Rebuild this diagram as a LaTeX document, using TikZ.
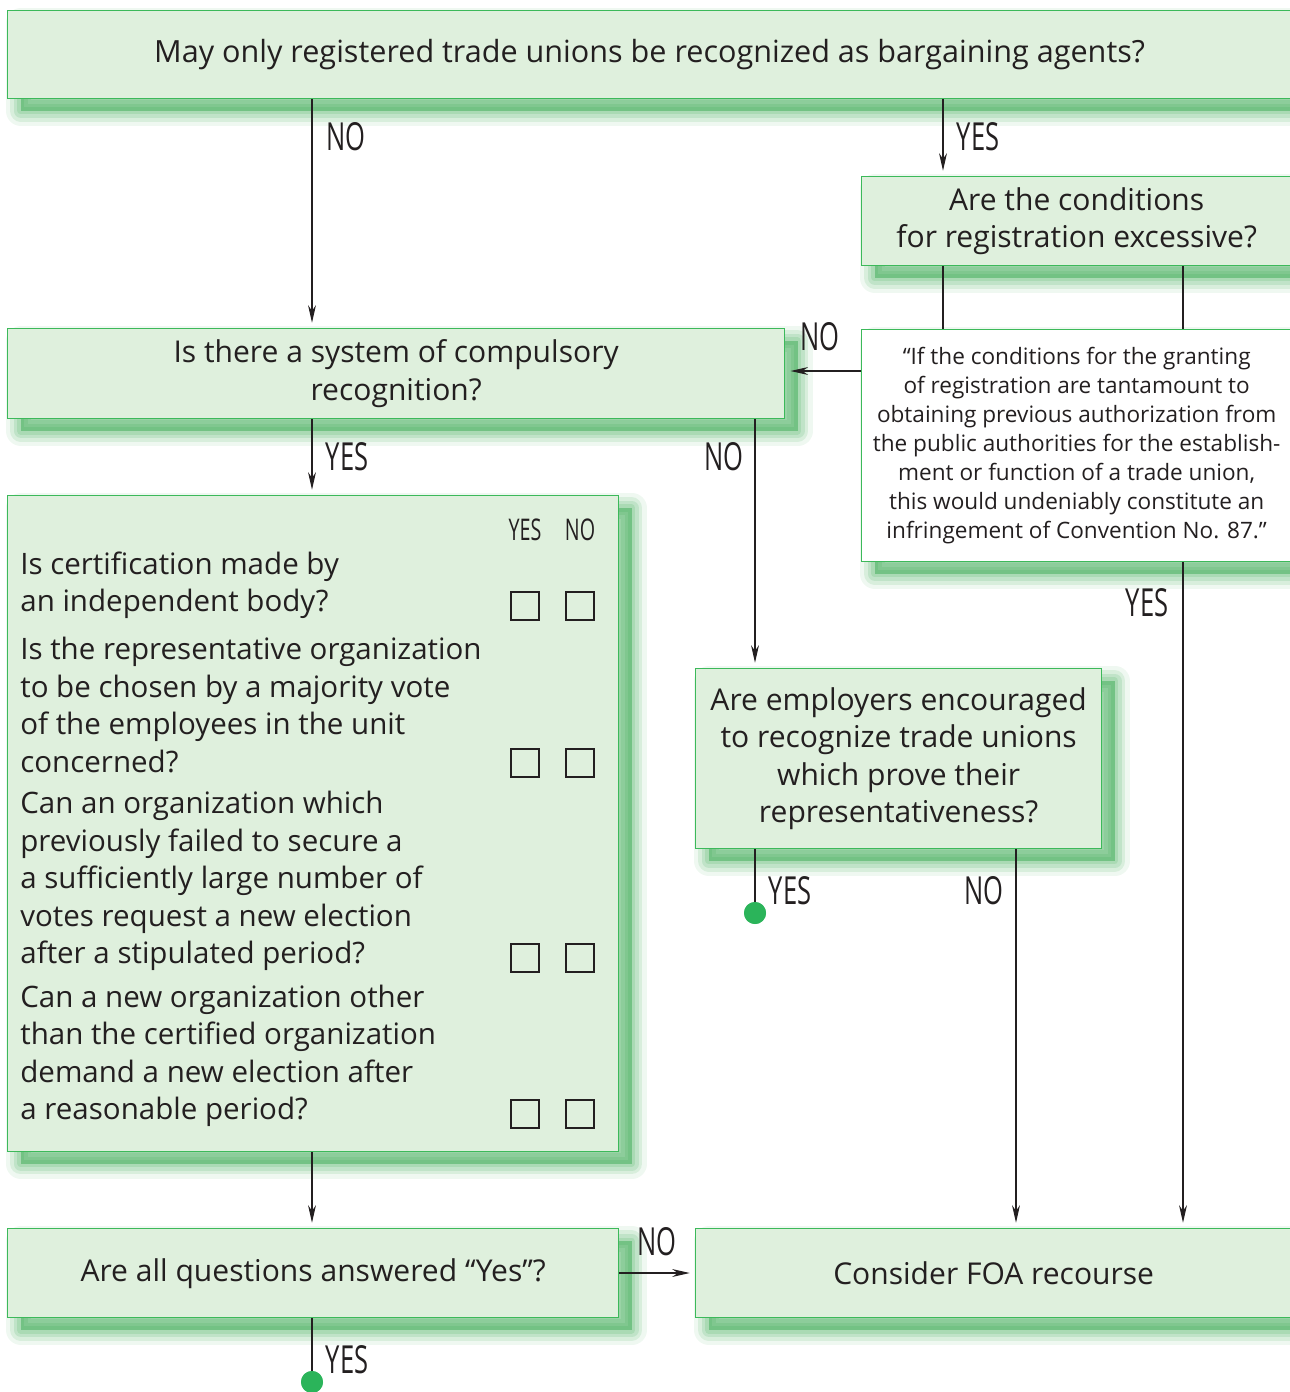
\documentclass[tikz,border=0pt]{standalone}
\usepackage{fontspec}
\setmainfont{Open Sans}
\newfontfamily\condfont[FakeStretch=0.66]{Open Sans}
\usetikzlibrary{arrows.meta}
\definecolor{boxfill}{RGB}{223,240,221}
\definecolor{boxline}{RGB}{60,185,90}
\definecolor{shadegreen}{RGB}{50,165,75}
\definecolor{dotgreen}{RGB}{43,180,90}
\definecolor{ink}{RGB}{35,31,32}
\tikzset{
 glow/.style={
   preaction={fill=shadegreen,opacity=0.45,transform canvas={xshift=7.5pt,yshift=-7pt}},
   preaction={draw=shadegreen,line join=round,line width=4pt,opacity=0.16,transform canvas={xshift=7.5pt,yshift=-7pt}},
   preaction={draw=shadegreen,line join=round,line width=8pt,opacity=0.14,transform canvas={xshift=7.5pt,yshift=-7pt}},
   preaction={draw=shadegreen,line join=round,line width=12pt,opacity=0.12,transform canvas={xshift=7.5pt,yshift=-7pt}},
   preaction={draw=shadegreen,line join=round,line width=17pt,opacity=0.08,transform canvas={xshift=7.5pt,yshift=-7pt}}},
 qbox/.style={glow,draw=boxline,fill=boxfill,line width=0.8pt,inner sep=0pt,anchor=north west,
   align=center,text=ink,font=\fontsize{17.1}{21.3}\selectfont},
 quotebox/.style={qbox,fill=white,font=\fontsize{12.85}{16.5}\selectfont},
 qtext/.style={anchor=west,align=left,inner sep=0pt,text=ink,font=\fontsize{16.8}{21.3}\selectfont},
 chk/.style={draw=ink,line width=0.8pt,minimum size=0.56cm,inner sep=0pt},
 yn/.style={inner sep=0pt,text=ink,font=\condfont\fontsize{22}{22}\selectfont},
 ynhead/.style={yn,font=\condfont\fontsize{17}{17}\selectfont},
 ln/.style={draw=ink,line width=0.6pt},
 arr/.style={ln,->,shorten >=3pt},
 dot/.style={circle,fill=dotgreen,minimum size=0.44cm,inner sep=0pt}
}
\begin{document}
\begin{tikzpicture}[x=0.02cm,y=-0.02cm,>={Stealth[length=10pt,width=4.5pt]}]
\useasboundingbox (0,0) rectangle (1289,1392);
% columns of the connectors
\coordinate (colA) at (312,0);
\coordinate (colB) at (755,0);
\coordinate (colC) at (943,0);
\coordinate (colD) at (1016,0);
\coordinate (colE) at (1183,0);
\coordinate (rowQ) at (0,371);
\coordinate (rowF) at (0,1273);
% boxes
\node[qbox,minimum width=25.68cm,minimum height=1.76cm,font=\fontsize{17.4}{21.3}\selectfont] (regonly) at (7,10)
 {May only registered trade unions be recognized as bargaining agents?};
\node[qbox,minimum width=8.6cm,minimum height=1.78cm] (excess) at (861,176)
 {Are the conditions\\for registration excessive?};
\node[qbox,minimum width=15.54cm,minimum height=1.8cm] (compul) at (7,328)
 {Is there a system of compulsory\\recognition?};
\node[quotebox,minimum width=8.6cm,minimum height=4.64cm] (quote) at (861,329)
 {“If the conditions for the granting\\of registration are tantamount to\\obtaining previous authorization from\\the public authorities for the establish-\\ment or function of a trade union,\\this would undeniably constitute an\\infringement of Convention No. 87.”};
\node[qbox,minimum width=12.22cm,minimum height=13.12cm] (checks) at (7,495) {};
\node[qbox,minimum width=8.12cm,minimum height=3.6cm] (employ) at (695,668)
 {Are employers encouraged\\to recognize trade unions\\which prove their\\representativeness?};
\node[qbox,minimum width=12.22cm,minimum height=1.78cm] (allyes) at (7,1228)
 {Are all questions answered “Yes”?};
\node[qbox,minimum width=11.92cm,minimum height=1.78cm] (foa) at (695,1228)
 {Consider FOA recourse};
% questions of the checklist
\node[ynhead] (hyes) at (525,530) {YES};
\node[ynhead] (hno) at (580,530) {NO};
\node[qtext] (qa) at (20,585.5) {Is certification made by\\an independent body?};
\node[qtext] (qb) at (20,705) {Is the representative organization\\to be chosen by a majority vote\\of the employees in the unit\\concerned?};
\node[qtext] (qc) at (20,881) {Can an organization which\\previously failed to secure a\\a sufficiently large number of\\votes request a new election\\after a stipulated period?};
\node[qtext] (qd) at (20,1056) {Can a new organization other\\than the certified organization\\demand a new election after\\a reasonable period?};
\foreach \y in {606,763,958,1114}
 \foreach \x in {525,580}
  \node[chk] (box-\x-\y) at (\x,\y) {};
% end points
\node[dot] (endA) at (312,1382) {};
\node[dot] (endB) at (755,913) {};
% connectors
\draw[arr] (colA |- regonly.south) -- (colA |- compul.north);
\draw[arr] (colC |- regonly.south) -- (colC |- excess.north);
\draw[ln] (colC |- excess.south) -- (colC |- quote.north);
\draw[ln] (colE |- excess.south) -- (colE |- quote.north);
\draw[arr] (quote.west |- rowQ) -- (compul.east |- rowQ);
\draw[arr] (colA |- compul.south) -- (colA |- checks.north);
\draw[arr] (colB |- compul.south) -- (colB |- employ.north);
\draw[arr] (colE |- quote.south) -- (colE |- foa.north);
\draw[ln] (colB |- employ.south) -- (endB.center);
\draw[arr] (colD |- employ.south) -- (colD |- foa.north);
\draw[arr] (colA |- checks.south) -- (colA |- allyes.north);
\draw[arr] (allyes.east |- rowF) -- (foa.west |- rowF);
\draw[ln] (colA |- allyes.south) -- (endA.center);
\node[dot] at (endA) {};
\node[dot] at (endB) {};
% labels
\node[yn] (noA) at (346,137) {NO};
\node[yn] (yesA) at (978,137) {YES};
\node[yn] (noB) at (820,337) {NO};
\node[yn] (yesB) at (347,457) {YES};
\node[yn] (noC) at (724,457) {NO};
\node[yn] (yesC) at (1147,603) {YES};
\node[yn] (yesD) at (790,891) {YES};
\node[yn] (noD) at (984,891) {NO};
\node[yn] (noE) at (657,1242) {NO};
\node[yn] (yesE) at (347,1360) {YES};
\end{tikzpicture}
\end{document}
